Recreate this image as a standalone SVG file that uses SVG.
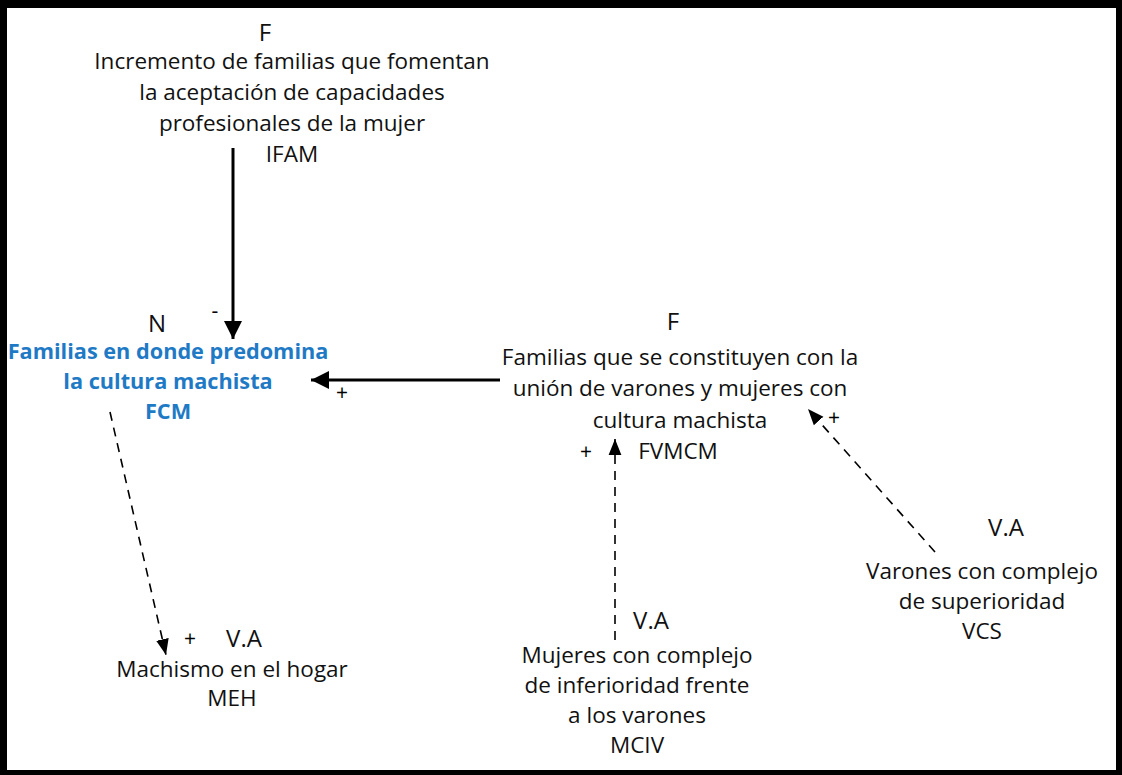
<svg xmlns="http://www.w3.org/2000/svg" width="1122" height="775" viewBox="0 0 1122 775">
<style>
text{font-family:"Open Sans","Liberation Sans",sans-serif;font-size:22.5px;fill:#111;text-anchor:middle}
.big{font-size:24px}
.sm{font-size:21px;fill:#000}
.blue{fill:#1f7ac6;font-weight:bold;font-size:21.7px}
.solid{stroke:#000;stroke-width:3;fill:none}
.dash{stroke:#000;stroke-width:1.6;fill:none;stroke-dasharray:9 7}
</style>
<defs>
<marker id="ah" viewBox="0 0 10 10" refX="10" refY="5" markerWidth="6" markerHeight="6" markerUnits="strokeWidth" orient="auto"><path d="M0,0 L10,5 L0,10 z" fill="#000"/></marker>
<marker id="ahd" viewBox="0 0 10 10" refX="10" refY="5" markerWidth="10" markerHeight="10" markerUnits="strokeWidth" orient="auto"><path d="M0,1 L10,5 L0,9 z" fill="#000"/></marker>
</defs>
<rect x="0" y="0" width="1122" height="775" fill="#000"/>
<rect x="7" y="8" width="1109" height="762" fill="#fff"/>
<g id="connectors">
<line class="solid" x1="233" y1="148" x2="233" y2="339" marker-end="url(#ah)"/>
<line class="solid" x1="500" y1="380" x2="311" y2="380" marker-end="url(#ah)"/>
<line class="dash" x1="615" y1="640" x2="615" y2="439" marker-end="url(#ahd)"/>
<line class="dash" x1="935" y1="552" x2="808" y2="409" marker-end="url(#ahd)"/>
<line class="dash" x1="110" y1="412" x2="166" y2="655" marker-end="url(#ahd)"/>
<text class="sm" x="215" y="318">-</text>
<text class="sm" x="342" y="400">+</text>
<text class="sm" x="586" y="459">+</text>
<text class="sm" x="834" y="425">+</text>
<text class="sm" x="190" y="646">+</text>
</g>
<g id="IFAM">
<text class="big" x="265" y="41">F</text>
<text x="292" y="69">Incremento de familias que fomentan</text>
<text x="292" y="100">la aceptación de capacidades</text>
<text x="292" y="131">profesionales de la mujer</text>
<text x="292" y="162">IFAM</text>
</g>
<g id="FCM">
<text class="big" x="157" y="332">N</text>
<text class="blue" x="168" y="359">Familias en donde predomina</text>
<text class="blue" x="168" y="389">la cultura machista</text>
<text class="blue" x="168" y="419">FCM</text>
</g>
<g id="FVMCM">
<text class="big" x="673" y="330">F</text>
<text x="680" y="365">Familias que se constituyen con la</text>
<text x="680" y="396">unión de varones y mujeres con</text>
<text x="680" y="428">cultura machista</text>
<text x="678" y="459">FVMCM</text>
</g>
<g id="VCS">
<text class="big" x="1006" y="536">V.A</text>
<text x="982" y="579">Varones con complejo</text>
<text x="982" y="609">de superioridad</text>
<text x="982" y="639">VCS</text>
</g>
<g id="MCIV">
<text class="big" x="651" y="629">V.A</text>
<text x="637" y="663">Mujeres con complejo</text>
<text x="637" y="693">de inferioridad frente</text>
<text x="637" y="723">a los varones</text>
<text x="637" y="753">MCIV</text>
</g>
<g id="MEH">
<text class="big" x="244" y="647">V.A</text>
<text x="232" y="677">Machismo en el hogar</text>
<text x="232" y="706">MEH</text>
</g>
</svg>
